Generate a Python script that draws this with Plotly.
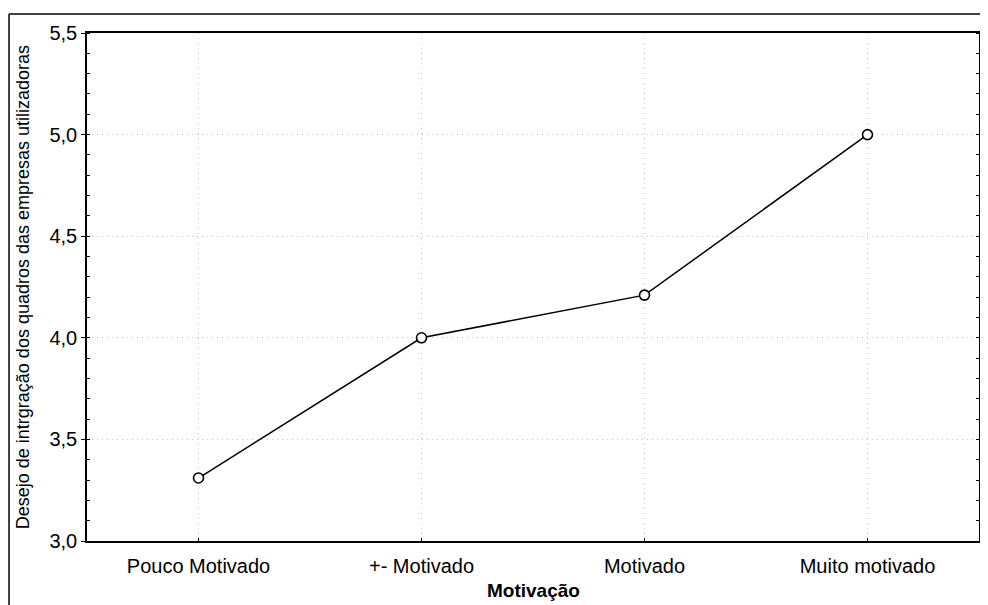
import plotly.graph_objects as go

categories = ["Pouco Motivado", "+- Motivado", "Motivado", "Muito motivado"]
values = [3.31, 4.0, 4.21, 5.0]
y_ticks = [3.0, 3.5, 4.0, 4.5, 5.0, 5.5]

fig = go.Figure()
fig.add_trace(go.Scatter(
    x=list(range(len(categories))),
    y=values,
    mode="lines+markers",
    line=dict(color="black", width=1.5),
    marker=dict(symbol="circle", size=10, color="white",
                line=dict(color="black", width=1.6)),
    showlegend=False,
))

grid_col = "#c4c4c4"

fig.update_xaxes(
    range=[-0.5, 3.5],
    tickmode="array",
    tickvals=list(range(len(categories))),
    ticktext=categories,
    tickfont=dict(family="Liberation Sans, Arial", size=20, color="black"),
    ticks="inside", ticklen=3, tickcolor="black",
    ticklabelstandoff=6,
    showline=True, linecolor="black", linewidth=1.5, mirror=True,
    showgrid=True, gridcolor=grid_col, griddash="1px,4px", gridwidth=1,
    zeroline=False, automargin=False,
)
fig.update_yaxes(
    range=[3.0, 5.5],
    tickmode="array",
    tickvals=y_ticks,
    tickformat=".1f",
    tickfont=dict(family="Liberation Sans, Arial", size=20, color="black"),
    ticks="outside", ticklen=4, tickcolor="black",
    minor=dict(dtick=0.1, ticks="inside", ticklen=3, tickcolor="black", showgrid=False),
    showline=True, linecolor="black", linewidth=1.5, mirror="allticks",
    showgrid=True, gridcolor=grid_col, griddash="1px,4px", gridwidth=1,
    zeroline=False, automargin=False,
)

# axis titles
fig.add_annotation(text="Desejo de intrgração dos quadros das empresas utilizadoras",
                   xref="paper", yref="paper", x=-0.0715, y=0.5,
                   xanchor="center", yanchor="middle", textangle=-90, showarrow=False,
                   font=dict(family="Liberation Sans, Arial", size=18, color="black"))
fig.add_annotation(text="<b>Motivação</b>",
                   xref="paper", yref="paper", x=0.5, y=-0.0984,
                   xanchor="center", yanchor="middle", showarrow=False,
                   font=dict(family="Liberation Sans, Arial", size=19, color="black"))

# outer frame (top and left edges of the original figure border)
fig.add_shape(type="line", xref="paper", yref="paper",
              x0=-0.0874, x1=1.02, y0=1.0374, y1=1.0374,
              line=dict(color="black", width=1.5))
fig.add_shape(type="line", xref="paper", yref="paper",
              x0=-0.0874, x1=-0.0874, y0=1.0374, y1=-0.2,
              line=dict(color="black", width=1.5))

# page body has an 8px margin, so the figure is sized to fit inside it
fig.update_layout(
    width=980, height=597,
    margin=dict(l=79, r=9, t=25, b=64),
    paper_bgcolor="white", plot_bgcolor="white",
    separators=",.",
    font=dict(family="Liberation Sans, Arial", color="black"),
)

fig.write_html("out.html")
